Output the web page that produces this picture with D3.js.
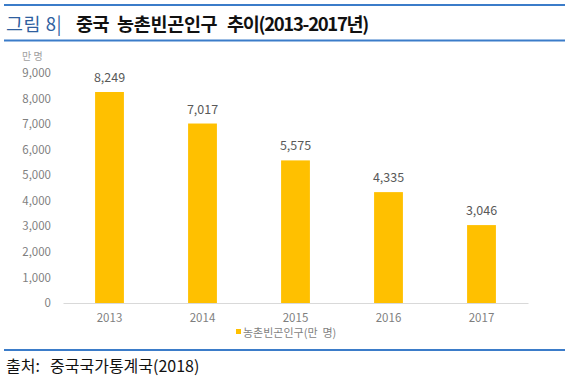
<!DOCTYPE html>
<html><head><meta charset="utf-8">
<script src="https://cdn.jsdelivr.net/npm/d3@7"></script>
<style>body{margin:0;background:#fff}svg{display:block}</style>
</head><body>
<svg id="c" width="575" height="381"></svg>
<script>
const years = ["2013","2014","2015","2016","2017"];
const poorPop = [8249, 7017, 5575, 4335, 3046];
const yTicks = [0,1000,2000,3000,4000,5000,6000,7000,8000,9000];
const titleLabel = "그림 8|";
const titleWords = ["중국","농촌빈곤인구","추이(2013-2017년)"];
const unitLabel = "만 명";
const seriesName = "농촌빈곤인구(만  명)";
const sourceWords = ["출처:","중국국가통계국(2018)"];

const svg = d3.select("#c");
const font = "'Noto Sans CJK KR','Noto Sans',sans-serif";
const blue = "#3b7cc9";

[5, 40.5, 350].forEach(y => svg.append("line").attr("x1",4).attr("x2",565).attr("y1",y).attr("y2",y)
  .attr("stroke",blue).attr("stroke-width",1.8));

const t = svg.append("text").attr("y",31).attr("font-family",font).attr("font-size",18.5);
t.append("tspan").attr("x",6).attr("fill","#2f5f9f").attr("letter-spacing",0.5).text(titleLabel);
const titleX = [76,117,227];
const titleLS = [-0.6,-0.3,-1.3];
titleWords.forEach((w,i)=>t.append("tspan").attr("x",titleX[i]).attr("letter-spacing",titleLS[i])
  .attr("fill","#111").attr("font-weight",700).text(w));

const x = d3.scaleBand().domain(years).range([63,528]).paddingInner(0.69).paddingOuter(0.345);
const y = d3.scaleLinear().domain([0,9000]).range([303,72.8]);

const grey = "#7f7f7f";
svg.append("g").attr("transform","translate(0,303)")
  .call(d3.axisBottom(x).tickSize(0).tickPadding(11))
  .call(g=>{g.select(".domain").attr("stroke","#d9d9d9").attr("stroke-width",1.2);
    g.selectAll("text").attr("font-family",font).attr("font-size",11.5).attr("fill",grey);});

svg.append("g").attr("transform","translate(51,0)")
  .call(d3.axisLeft(y).tickValues(yTicks).tickSize(0).tickPadding(0).tickFormat(d3.format(",")))
  .call(g=>{g.select(".domain").remove();
    g.selectAll("text").attr("font-family",font).attr("font-size",11.5).attr("fill",grey);});

svg.append("text").attr("x",22).attr("y",60).attr("font-family",font).attr("font-size",10).attr("fill","#a0a0a0").text(unitLabel);

svg.selectAll("rect.bar").data(poorPop).join("rect").attr("class","bar")
  .attr("x",(d,i)=>x(years[i])).attr("width",x.bandwidth())
  .attr("y",d=>y(d)).attr("height",d=>y(0)-y(d)).attr("fill","#ffc000");

svg.selectAll("text.lbl").data(poorPop).join("text").attr("class","lbl")
  .attr("x",(d,i)=>x(years[i])+x.bandwidth()/2).attr("y",d=>y(d)-10)
  .attr("text-anchor","middle").attr("font-family",font).attr("font-size",12.5).attr("fill","#595959")
  .text(d=>d3.format(",")(d));

svg.append("rect").attr("x",236).attr("y",329).attr("width",5).attr("height",5).attr("fill","#ffc000");
svg.append("text").attr("x",243).attr("y",337).attr("font-family",font).attr("font-size",11).attr("fill",grey)
  .attr("style","white-space:pre").text(seriesName);

const s = svg.append("text").attr("y",372).attr("font-family",font).attr("font-size",16).attr("fill","#111");
s.append("tspan").attr("x",6).text(sourceWords[0]);
s.append("tspan").attr("x",50).text(sourceWords[1]);
</script>
</body></html>
